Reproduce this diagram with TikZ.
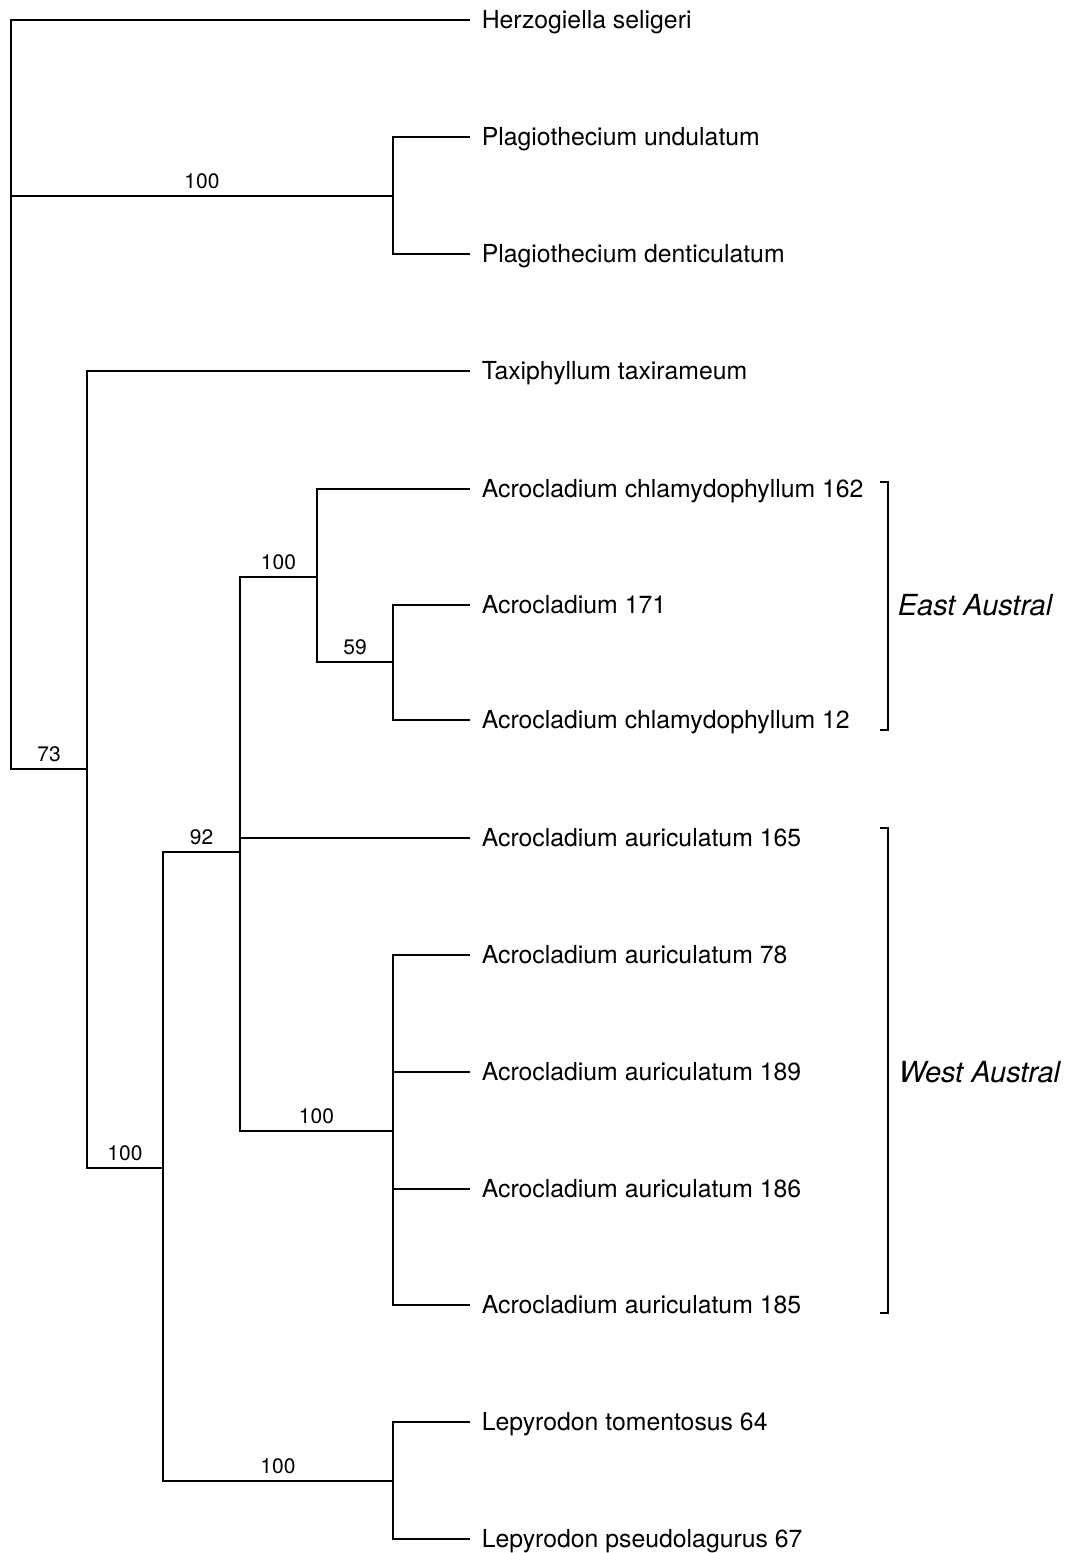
\documentclass[tikz,border=0pt]{standalone}
\usepackage{fontspec}
\setmainfont{TeX Gyre Heros}

\begin{document}
\begin{tikzpicture}[x=1pt, y=-1pt, line width=1.6pt,
    taxon/.style={anchor=west, inner xsep=11pt, inner ysep=0pt, text height=17.6pt, text depth=0pt, font=\fontsize{24.8}{30}\selectfont},
    support/.style={pos=0.75, anchor=base, yshift=7.5pt, inner sep=0pt, font=\fontsize{21}{25}\selectfont},
    region/.style={anchor=base west, inner sep=0pt, font=\fontsize{29}{35}\selectfont\itshape}]
        \useasboundingbox (0,0) rectangle (1066,1553);

        % inner nodes of the tree
        \coordinate (root) at (11,395);
        \coordinate (plagio) at (393,196);
        \coordinate (n73) at (87,769);
        \coordinate (n100a) at (163,1168);
        \coordinate (n92) at (240,852);
        \coordinate (n100b) at (317,577);
        \coordinate (n59) at (393,662);
        \coordinate (n100c) at (393,1131);
        \coordinate (lepy) at (393,1481);

        % taxa
        \node[taxon] (herz) at (470,20) {Herzogiella seligeri};
        \node[taxon] (plund) at (470,137) {Plagiothecium undulatum};
        \node[taxon] (plden) at (470,254) {Plagiothecium denticulatum};
        \node[taxon] (taxi) at (470,371) {Taxiphyllum taxirameum};
        \node[taxon] (a162) at (470,489) {Acrocladium chlamydophyllum 162};
        \node[taxon] (a171) at (470,605) {Acrocladium 171};
        \node[taxon] (a12) at (470,720) {Acrocladium chlamydophyllum 12};
        \node[taxon] (a165) at (470,838) {Acrocladium auriculatum 165};
        \node[taxon] (a78) at (470,955) {Acrocladium auriculatum 78};
        \node[taxon] (a189) at (470,1072) {Acrocladium auriculatum 189};
        \node[taxon] (a186) at (470,1189) {Acrocladium auriculatum 186};
        \node[taxon] (a185) at (470,1305) {Acrocladium auriculatum 185};
        \node[taxon] (l64) at (470,1422) {Lepyrodon tomentosus 64};
        \node[taxon] (l67) at (470,1539) {Lepyrodon pseudolagurus 67};

        % branches
        \draw (root) |- (herz.west);
        \draw (root) |- (plagio) node[support] {100};
        \draw (root) |- (n73) node[support] {73};
        \draw (plagio) |- (plund.west);
        \draw (plagio) |- (plden.west);
        \draw (n73) |- (taxi.west);
        \draw (n73) |- (n100a) node[support] {100};
        \draw (n100a) |- (n92) node[support] {92};
        \draw (n100a) |- (lepy) node[support] {100};
        \draw (n92) |- (n100b) node[support] {100};
        \draw (n92) |- (a165.west);
        \draw (n92) |- (n100c) node[support] {100};
        \draw (n100b) |- (a162.west);
        \draw (n100b) |- (n59) node[support] {59};
        \draw (n59) |- (a171.west);
        \draw (n59) |- (a12.west);
        \draw (n100c) |- (a78.west);
        \draw (n100c) |- (a189.west);
        \draw (n100c) |- (a186.west);
        \draw (n100c) |- (a185.west);
        \draw (lepy) |- (l64.west);
        \draw (lepy) |- (l67.west);

        % regional brackets
        \coordinate (eTop) at (880,482);
        \coordinate (eBot) at (880,730);
        \coordinate (wTop) at (880,828);
        \coordinate (wBot) at (880,1313);
        \draw (eTop) -- ++(8,0) |- (eBot);
        \draw (wTop) -- ++(8,0) |- (wBot);
        \node[region] (east) at (897,615) {East Austral};
        \node[region] (west) at (898,1082) {West Austral};
    \end{tikzpicture}
\end{document}
